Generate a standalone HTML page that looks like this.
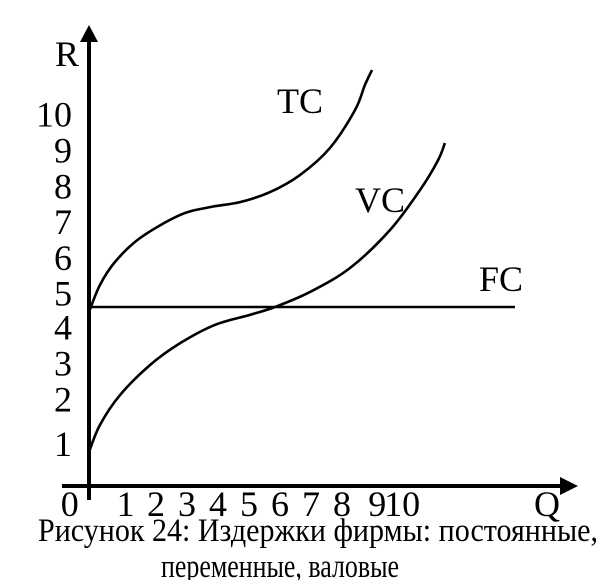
<!DOCTYPE html>
<html><head><meta charset="utf-8"><style>
html,body{margin:0;padding:0;background:#fff;}
svg{display:block;}
svg text{font-family:"Liberation Serif","DejaVu Serif",serif;}
</style></head><body>
<svg id="chart" width="602" height="580" viewBox="0 0 602 580" xmlns="http://www.w3.org/2000/svg">
<g id="axes">
<line x1="89" y1="500" x2="89" y2="40" stroke="#000" stroke-width="4"/>
<polygon points="80,42 98,42 89,25" fill="#000"/>
<line x1="62" y1="486" x2="562" y2="486" stroke="#000" stroke-width="4"/>
<polygon points="560,477 560,495 578,486" fill="#000"/>
<text x="55" y="66" font-size="36">R</text>
<text x="534" y="516" font-size="36">Q</text>
</g>
<g id="ticks"></g>
<g id="series"></g>
<text x="277" y="113" font-size="36">TC</text>
<text x="355" y="212" font-size="36">VC</text>
<text x="479" y="291" font-size="36">FC</text>
<text x="38" y="541" font-size="33" textLength="560" lengthAdjust="spacingAndGlyphs">Рисунок 24: Издержки фирмы: постоянные,</text>
<text x="161" y="577" font-size="33" textLength="238" lengthAdjust="spacingAndGlyphs">переменные, валовые</text>
</svg>
<script>
const tcQ = [0,0.35,0.84,1.65,2.94,3.9,4.87,5.84,6.81,7.77,8.58,8.9,9.13];
const tcV = [4.86,5.61,6.26,6.93,7.57,7.79,7.93,8.21,8.69,9.44,10.5,11.2,11.62];
const vcQ = [0,0.35,1,1.97,2.94,4.06,5.19,6,7.13,8.42,9.71,10.68,11.26,11.48];
const vcV = [0.95,1.7,2.54,3.38,3.99,4.5,4.78,5.0,5.42,6.09,7.15,8.27,9.1,9.58];
const fcQ = [0,13.74];
const fcV = [5,5];
const yTickLabels = ["10","9","8","7","6","5","4","3","2","1"];
const yTickVals = [10.4,9.4,8.4,7.4,6.4,5.4,4.45,3.45,2.45,1.2];
const xTickLabels = ["0","1","2","3","4","5","6","7","8","9","10"];
const xTickVals = [-0.62,1.18,2.16,3.16,4.16,5.16,6.16,7.16,8.16,9.3,10.1];

const X0=89, XU=31, Y0=486, YU=35.8;
function sx(q){return X0+q*XU;}
function sy(v){return Y0-v*YU;}
const NS="http://www.w3.org/2000/svg";
const ser=document.getElementById('series');
function catmull(qs,vs){
  const p=qs.map((q,i)=>[sx(q),sy(vs[i])]);
  if(p.length===2) return `M${p[0][0]},${p[0][1]}L${p[1][0]},${p[1][1]}`;
  let d=`M${p[0][0]},${p[0][1]}`;
  for(let i=0;i<p.length-1;i++){
    const a=p[Math.max(0,i-1)],b=p[i],c=p[i+1],e=p[Math.min(p.length-1,i+2)];
    d+=`C${b[0]+(c[0]-a[0])/6},${b[1]+(c[1]-a[1])/6} ${c[0]-(e[0]-b[0])/6},${c[1]-(e[1]-b[1])/6} ${c[0]},${c[1]}`;
  }
  return d;
}
[['tc-curve',tcQ,tcV],['vc-curve',vcQ,vcV],['fc-line',fcQ,fcV]].forEach(s=>{
  const el=document.createElementNS(NS,'path');
  el.setAttribute('d',catmull(s[1],s[2]));
  el.setAttribute('fill','none');el.setAttribute('stroke','#000');el.setAttribute('stroke-width','2.6');
  
  
  ser.appendChild(el);
});
const tk=document.getElementById('ticks');
yTickLabels.forEach((t,i)=>{
  const el=document.createElementNS(NS,'text');
  el.setAttribute('x',72);el.setAttribute('y',sy(yTickVals[i])+13);
  el.setAttribute('text-anchor','end');el.setAttribute('font-size','36');
  el.textContent=t;
  
  
  tk.appendChild(el);
});
xTickLabels.forEach((t,i)=>{
  const el=document.createElementNS(NS,'text');
  el.setAttribute('x',sx(xTickVals[i]));el.setAttribute('y',516);
  el.setAttribute('text-anchor','middle');el.setAttribute('font-size','36');
  el.textContent=t;
  
  
  tk.appendChild(el);
});
</script>
</body></html>
